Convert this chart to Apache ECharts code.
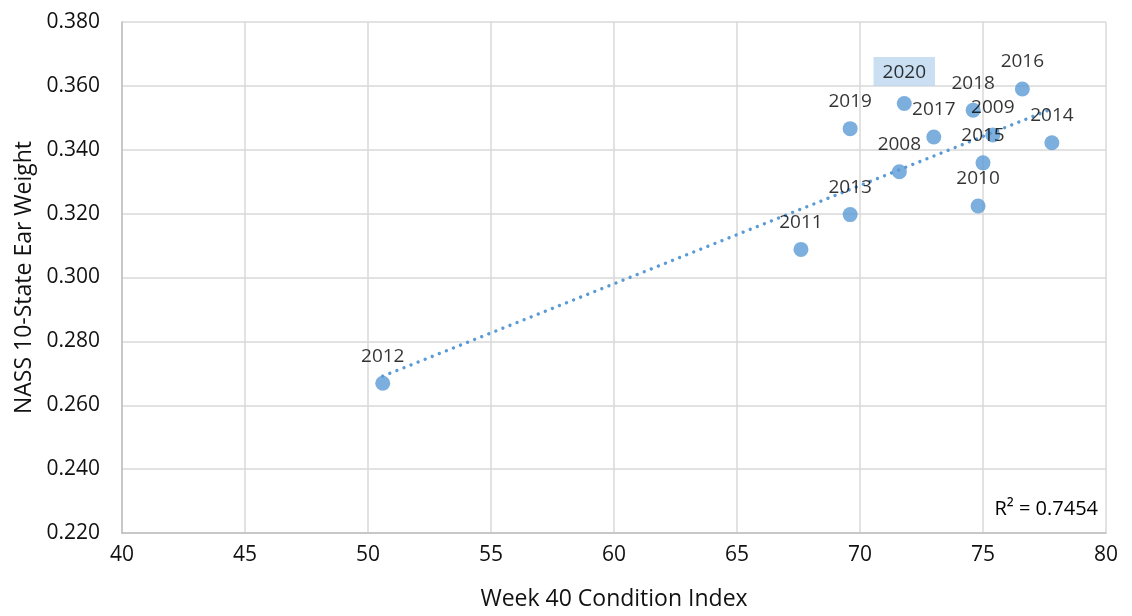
<!DOCTYPE html>
<html>
<head>
<meta charset="utf-8">
<script src="https://cdn.jsdelivr.net/npm/echarts@6/dist/echarts.min.js"></script>
<style>
html,body{margin:0;padding:0;background:#fff;}
#chart{width:1132px;height:616px;}
</style>
</head>
<body>
<div id="chart"></div>
<script>
const years      = ['2008','2009','2010','2011','2012','2013','2014','2015','2016','2017','2018','2019','2020'];
const condIndex  = [71.6, 75.4, 74.8, 67.6, 50.6, 69.6, 77.8, 75.0, 76.6, 73.0, 74.6, 69.6, 71.8];
const earWeight  = [0.3331, 0.3446, 0.3224, 0.3088, 0.2669, 0.3197, 0.3422, 0.3359, 0.3590, 0.3440, 0.3524, 0.3466, 0.3545];
const trendX     = [50.6, 77.8];
const trendY     = [0.2691, 0.3528];
const xTicks     = [40, 45, 50, 55, 60, 65, 70, 75, 80];
const yTicks     = [0.220, 0.240, 0.260, 0.280, 0.300, 0.320, 0.340, 0.360, 0.380];
const rSquared   = 'R² = 0.7454';
const highlightYear = '2020';

const FONT = '"Open Sans", "Liberation Sans", sans-serif';
const BLUE = '#5B9BD5';

const points = years.map((y, i) => {
  const item = { value: [condIndex[i], earWeight[i]], name: y };
  if (y === highlightYear) {
    item.label = { backgroundColor: '#BDD7EE', padding: [6, 9, 4, 9] };
  }
  return item;
});

const chart = echarts.init(document.getElementById('chart'), null, { renderer: 'canvas' });
chart.setOption({
  backgroundColor: '#fff',
  animation: false,
  grid: { left: 122, right: 26, top: 22, bottom: 83, containLabel: false },
  xAxis: {
    type: 'value',
    min: xTicks[0], max: xTicks[xTicks.length - 1], interval: 5,
    name: 'Week 40 Condition Index',
    nameLocation: 'middle', nameGap: 55,
    nameTextStyle: { fontFamily: FONT, fontSize: 23, color: '#111' },
    axisLine: { show: true, lineStyle: { color: '#BFBFBF', width: 1.5 } },
    axisTick: { show: false },
    axisLabel: { fontFamily: FONT, fontSize: 21, color: '#111', margin: 12 },
    splitLine: { show: true, lineStyle: { color: '#D9D9D9', width: 1.5 } }
  },
  yAxis: {
    type: 'value',
    min: yTicks[0], max: yTicks[yTicks.length - 1], interval: 0.02,
    name: 'NASS 10-State Ear Weight',
    nameLocation: 'middle', nameGap: 86,
    nameTextStyle: { fontFamily: FONT, fontSize: 23, color: '#111' },
    axisLine: { show: true, lineStyle: { color: '#BFBFBF', width: 1.5 } },
    axisTick: { show: false },
    axisLabel: { fontFamily: FONT, fontSize: 21, color: '#111', margin: 22,
                 formatter: v => v.toFixed(3) },
    splitLine: { show: true, lineStyle: { color: '#D9D9D9', width: 1.5 } }
  },
  series: [
    {
      type: 'line',
      data: trendX.map((x, i) => [x, trendY[i]]),
      symbol: 'none',
      silent: true,
      z: 1,
      lineStyle: { color: BLUE, width: 3.4, type: [0.01, 7.6], cap: 'round' }
    },
    {
      type: 'scatter',
      data: points,
      symbolSize: 15,
      z: 3,
      itemStyle: { color: BLUE },
      label: {
        show: true,
        position: 'top',
        distance: 10,
        formatter: p => p.name,
        fontFamily: FONT,
        fontSize: 19,
        color: '#000'
      }
    }
  ],
  graphic: [
    {
      type: 'text',
      right: 34,
      top: 499,
      style: { text: rSquared, fontFamily: FONT, fontSize: 20, fill: '#000' }
    }
  ]
});
</script>
</body>
</html>
